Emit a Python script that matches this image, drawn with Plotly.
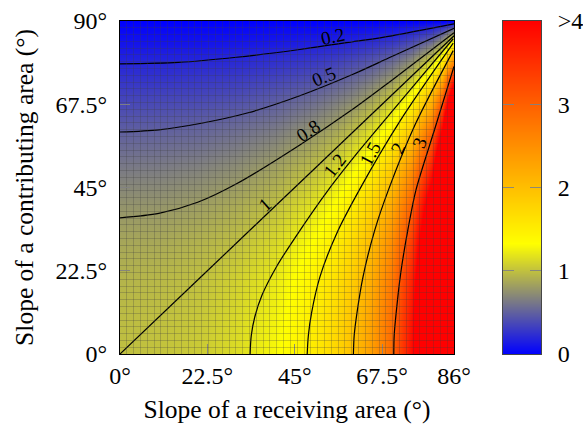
import plotly.graph_objects as go

# Heat-map samples (column = receiving slope, row = contributing slope)
slope_receiving = [0, 10, 20, 30, 40, 50, 55, 60, 65, 70, 75, 80, 83, 86]
slope_contributing = [0, 10, 20, 30, 40, 50, 60, 65, 70, 75, 80, 85, 88, 90]
ratio = [
    [1.00, 1.02, 1.06, 1.15, 1.30, 1.55, 1.74, 2.00, 2.37, 2.92, 3.86, 5.8, 8.3, 14.0],
    [0.98, 1.00, 1.04, 1.13, 1.27, 1.52, 1.71, 1.96, 2.32, 2.86, 3.78, 5.7, 8.1, 13.7],
    [0.94, 0.96, 1.00, 1.09, 1.22, 1.46, 1.64, 1.88, 2.22, 2.74, 3.63, 5.4, 7.8, 13.2],
    [0.87, 0.88, 0.93, 1.00, 1.13, 1.35, 1.51, 1.74, 2.06, 2.54, 3.36, 5.0, 7.2, 12.2],
    [0.77, 0.78, 0.82, 0.89, 1.00, 1.19, 1.34, 1.54, 1.82, 2.25, 2.97, 4.5, 6.4, 10.8],
    [0.64, 0.65, 0.68, 0.74, 0.84, 1.00, 1.12, 1.29, 1.52, 1.88, 2.48, 3.7, 5.3, 9.0],
    [0.50, 0.51, 0.53, 0.58, 0.65, 0.78, 0.87, 1.00, 1.18, 1.46, 1.93, 2.9, 4.1, 7.0],
    [0.42, 0.43, 0.45, 0.49, 0.55, 0.66, 0.74, 0.85, 1.00, 1.24, 1.63, 2.4, 3.5, 5.9],
    [0.34, 0.35, 0.36, 0.39, 0.45, 0.53, 0.60, 0.68, 0.81, 1.00, 1.32, 2.0, 2.8, 4.8],
    [0.26, 0.26, 0.28, 0.30, 0.34, 0.40, 0.45, 0.52, 0.61, 0.76, 1.00, 1.50, 2.1, 3.6],
    [0.17, 0.18, 0.18, 0.20, 0.23, 0.27, 0.30, 0.35, 0.41, 0.51, 0.67, 1.00, 1.42, 2.4],
    [0.09, 0.09, 0.09, 0.10, 0.11, 0.14, 0.15, 0.17, 0.21, 0.25, 0.34, 0.50, 0.72, 1.25],
    [0.03, 0.04, 0.04, 0.04, 0.05, 0.05, 0.06, 0.07, 0.08, 0.10, 0.13, 0.20, 0.29, 0.50],
    [0, 0, 0, 0, 0, 0, 0, 0, 0, 0, 0, 0, 0, 0],
]

# Contour lines: level -> (receiving slopes, contributing slopes)
contours = {
    "0.2": ([0, 15, 30, 46.3, 60, 70, 86], [78.4, 78.8, 80.2, 82.3, 84.4, 86, 89.2]),
    "0.5": ([0, 10, 20.6, 33, 46.3, 60, 70, 86], [60, 60.6, 62.3, 65.2, 69.8, 75.6, 80.4, 88]),
    "0.8": ([0, 10, 20, 30, 46.3, 60, 70, 86], [36.8, 38, 41, 46, 56.5, 66.2, 74, 86.8]),
    "1": ([0, 20, 40, 60, 86], [0, 20, 40, 60, 86]),
    "1.2": ([33.5, 33.8, 34.7, 36.6, 40.3, 44.8, 53.6, 62, 72, 85.8], [0, 5, 10, 16, 23.6, 31, 44.3, 55.5, 68, 85.2]),
    "1.5": ([48.2, 48.5, 49.3, 51.5, 55.8, 61.6, 72, 85.8], [0, 5, 11, 20.9, 32.6, 44.3, 62.8, 84]),
    "2": ([60.1, 60.3, 61, 62.6, 65.6, 69.1, 76, 85.8], [0, 5, 11, 21, 33.5, 44.3, 62, 82]),
    "3": ([70.5, 70.6, 71.1, 72.3, 74.2, 76.2, 81.1, 86], [0, 5, 11, 22, 34, 44.3, 61, 77.7]),
}
# Contour labels: level, x, y, rotation
contour_labels = [
    ("0.2", 54.8, 85.7, -12),
    ("0.5", 52.5, 74.9, -22),
    ("0.8", 48.5, 60.5, -33),
    ("1", 37.3, 40.5, -42),
    ("1.2", 55.3, 50.9, -52),
    ("1.5", 64.4, 54.2, -62),
    ("2", 71.5, 55.6, -65),
    ("3", 77.2, 57.1, -70),
]

x_ticks = [0, 22.5, 45, 67.5, 86]
x_tick_labels = ["0°", "22.5°", "45°", "67.5°", "86°"]
y_ticks = [0, 22.5, 45, 67.5, 90]
y_tick_labels = ["0°", "22.5°", "45°", "67.5°", "90°"]
bar_levels = [0, 1, 2, 3, 4]
bar_labels = ["0", "1", "2", "3", ">4"]

colorscale = [[0, "rgb(0,0,255)"], [1 / 3, "rgb(255,255,0)"], [1, "rgb(255,0,0)"]]
FONT = "Liberation Serif"
GRID = "rgba(60,60,60,0.26)"
TICK = "rgba(130,130,130,0.9)"

fig = go.Figure()
fig.add_trace(go.Heatmap(x=slope_receiving, y=slope_contributing, z=ratio, zmin=0, zmax=4,
                         colorscale=colorscale, zsmooth="best", showscale=False, hoverinfo="skip"))
for level, (xs, ys) in contours.items():
    fig.add_trace(go.Scatter(x=xs, y=ys, mode="lines", name=level, showlegend=False, hoverinfo="skip",
                             line=dict(color="black", width=1.2, shape="spline", smoothing=0.8)))
fig.add_trace(go.Heatmap(x=[0, 1], y=bar_levels, z=[[v, v] for v in bar_levels], zmin=0, zmax=4,
                         colorscale=colorscale, zsmooth="best", showscale=False, hoverinfo="skip",
                         xaxis="x2", yaxis="y2"))

for text, x, y, angle in contour_labels:
    fig.add_annotation(x=x, y=y, text=text, textangle=angle, showarrow=False, xref="x", yref="y",
                       font=dict(family=FONT, size=19, color="black"))

fig.update_layout(
    width=583, height=424, autosize=False, margin=dict(l=0, r=0, t=0, b=0),
    paper_bgcolor="white", plot_bgcolor="white", font=dict(family=FONT, color="black", size=21),
    showlegend=False,
    xaxis=dict(domain=[120 / 583, 454 / 583], range=[0, 86], tickmode="array", tickvals=x_ticks,
               ticktext=x_tick_labels, ticks="inside", ticklen=10, tickwidth=1, tickcolor=TICK,
               ticklabelstandoff=0, automargin=False,
               showgrid=False, zeroline=False, showline=True, mirror=True, linecolor="black", linewidth=1.3,
               minor=dict(tickmode="linear", tick0=0, dtick=86 / 49, ticks="inside", ticklen=333,
                          tickwidth=1.3, tickcolor=GRID, showgrid=False),
               title=dict(text="Slope of a receiving area (°)", font=dict(size=25.5), standoff=14),
               tickfont=dict(size=24), anchor="y"),
    yaxis=dict(domain=[1 - 354 / 424, 1 - 21 / 424], range=[0, 90], tickmode="array", tickvals=y_ticks,
               ticktext=y_tick_labels, ticks="inside", ticklen=10, tickwidth=1, tickcolor=TICK,
               ticklabelstandoff=7, automargin=False,
               showgrid=False, zeroline=False, showline=True, mirror=True, linecolor="black", linewidth=1.3,
               minor=dict(tickmode="linear", tick0=0, dtick=90 / 49, ticks="inside", ticklen=334,
                          tickwidth=1.3, tickcolor=GRID, showgrid=False),
               title=dict(text="Slope of a contributing area (°)", font=dict(size=25.5), standoff=14),
               tickfont=dict(size=24), anchor="x"),
    xaxis2=dict(domain=[503 / 583, 541 / 583], range=[0, 1], showticklabels=False, ticks="", automargin=False,
                showgrid=False, zeroline=False, showline=True, mirror=True, linecolor="rgb(70,70,70)",
                linewidth=1, anchor="y2"),
    yaxis2=dict(domain=[1 - 354 / 424, 1 - 21 / 424], range=[0, 4], side="right", tickmode="array",
                tickvals=bar_levels, ticktext=bar_labels, ticks="inside", ticklen=11, tickwidth=1,
                ticklabelstandoff=11, automargin=False,
                tickcolor=TICK, showgrid=False, zeroline=False, showline=True, mirror="ticks",
                linecolor="rgb(70,70,70)", linewidth=1, tickfont=dict(size=24), anchor="x2"),
)
fig.write_html("out.html", config={"displayModeBar": False},
               post_script="document.body.style.margin='0';")
